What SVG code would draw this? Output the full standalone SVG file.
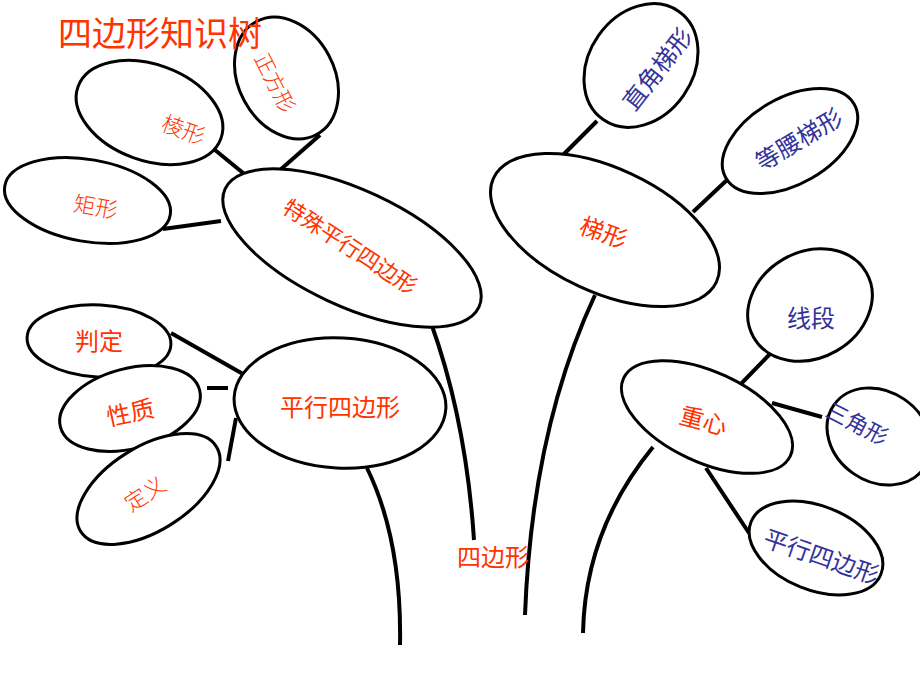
<svg xmlns="http://www.w3.org/2000/svg" width="920" height="690" viewBox="0 0 920 690">
<style>
.n{fill:#fff;stroke:#000;stroke-width:3}
.c{fill:none;stroke:#000;stroke-width:4;stroke-linecap:butt}
.t{font-family:"Noto Sans CJK SC","Noto Sans",sans-serif;text-anchor:middle;dominant-baseline:central}
.r{fill:#FF3300}
.b{fill:#333399}
.thin{font-weight:300}
</style>
<rect width="920" height="690" fill="#fff"/>
<g id="connectors">
<path class="c" d="M431,323 Q466,420 474,540"/>
<path class="c" d="M367,468 Q402,540 400,645"/>
<path class="c" d="M595,295 Q532,430 525,615"/>
<path class="c" d="M653,447 Q585,530 583,633"/>
<path class="c" d="M215,150 L248,177"/>
<path class="c" d="M320,135 L280,170"/>
<path class="c" d="M163,229 L221,221"/>
<path class="c" d="M597,121 L563,155"/>
<path class="c" d="M728,179 L693,212"/>
<path class="c" d="M770,354 L737,388"/>
<path class="c" d="M772,403 L822,417"/>
<path class="c" d="M706,468 L749,533"/>
<path class="c" d="M171,333 L243,374"/>
<path class="c" d="M207,388 L228,388"/>
<path class="c" d="M236,418 L228,461"/>
</g>
<g id="n-zhengfangxing"><ellipse class="n" cx="286.5" cy="78" rx="64" ry="48" transform="rotate(62 286.5 78)"/><text class="t r thin" x="276" y="82" font-size="21" transform="rotate(63 276 82)">正方形</text></g>
<g id="n-lingxing"><ellipse class="n" cx="149.5" cy="112.5" rx="76" ry="48" transform="rotate(20 149.5 112.5)"/><text class="t r thin" x="184" y="128" font-size="22" transform="rotate(20 184 128)">棱形</text></g>
<g id="n-juxing"><ellipse class="n" cx="87.5" cy="200.5" rx="84" ry="41" transform="rotate(10 87.5 200.5)"/><text class="t r thin" x="96" y="205" font-size="22" transform="rotate(10 96 205)">矩形</text></g>
<g id="n-teshu"><ellipse class="n" cx="352" cy="248" rx="140" ry="58" transform="rotate(25 352 248)"/><text class="t r" x="351" y="245" font-size="22" transform="rotate(33 351 245)">特殊平行四边形</text></g>
<g id="n-tixing"><ellipse class="n" cx="605" cy="230" rx="123" ry="62" transform="rotate(25 605 230)"/><text class="t r" x="604" y="231" font-size="24" transform="rotate(20 604 231)">梯形</text></g>
<g id="n-zhijiao"><ellipse class="n" cx="641" cy="65.5" rx="66" ry="52" transform="rotate(-55 641 65.5)"/><text class="t b" x="656" y="68" font-size="24" transform="rotate(-52 656 68)">直角梯形</text></g>
<g id="n-dengyao"><ellipse class="n" cx="790" cy="141" rx="74" ry="43" transform="rotate(-30 790 141)"/><text class="t b" x="798" y="138" font-size="24" transform="rotate(-31 798 138)">等腰梯形</text></g>
<g id="n-xianduan"><ellipse class="n" cx="810" cy="305" rx="65" ry="53" transform="rotate(-30 810 305)"/><text class="t b" x="811" y="316" font-size="24">线段</text></g>
<g id="n-zhongxin"><ellipse class="n" cx="707" cy="417" rx="92" ry="45" transform="rotate(25 707 417)"/><text class="t r" x="704" y="419" font-size="24" transform="rotate(15 704 419)">重心</text></g>
<g id="n-sanjiaoxing"><ellipse class="n" cx="879" cy="436.5" rx="55" ry="45" transform="rotate(35 879 436.5)"/><text class="t b" x="858" y="422" font-size="22" transform="rotate(27 858 422)">三角形</text></g>
<g id="n-pingxing2"><ellipse class="n" cx="816" cy="548" rx="70" ry="42" transform="rotate(22 816 548)"/><text class="t b" x="822" y="555" font-size="24" transform="rotate(19 822 555)">平行四边形</text></g>
<g id="n-panding"><ellipse class="n" cx="99" cy="341" rx="72" ry="36" transform="rotate(3 99 341)"/><text class="t r" x="99" y="339" font-size="24">判定</text></g>
<g id="n-xingzhi"><ellipse class="n" cx="130" cy="408.5" rx="72" ry="40" transform="rotate(-15 130 408.5)"/><text class="t r" x="130" y="411" font-size="24" transform="rotate(-12 130 411)">性质</text></g>
<g id="n-dingyi"><ellipse class="n" cx="148.5" cy="489" rx="80" ry="42" transform="rotate(-32 148.5 489)"/><text class="t r thin" x="144" y="492" font-size="22" transform="rotate(-33 144 492)">定义</text></g>
<g id="n-pingxing"><ellipse class="n" cx="340" cy="403" rx="106" ry="65" transform="rotate(3 340 403)"/><text class="t r" x="340" y="405" font-size="24">平行四边形</text></g>
<g id="n-trunk"><text class="t r" x="493" y="555" font-size="24">四边形</text></g>
<text x="160" y="31" class="t r" font-size="34">四边形知识树</text>
</svg>
